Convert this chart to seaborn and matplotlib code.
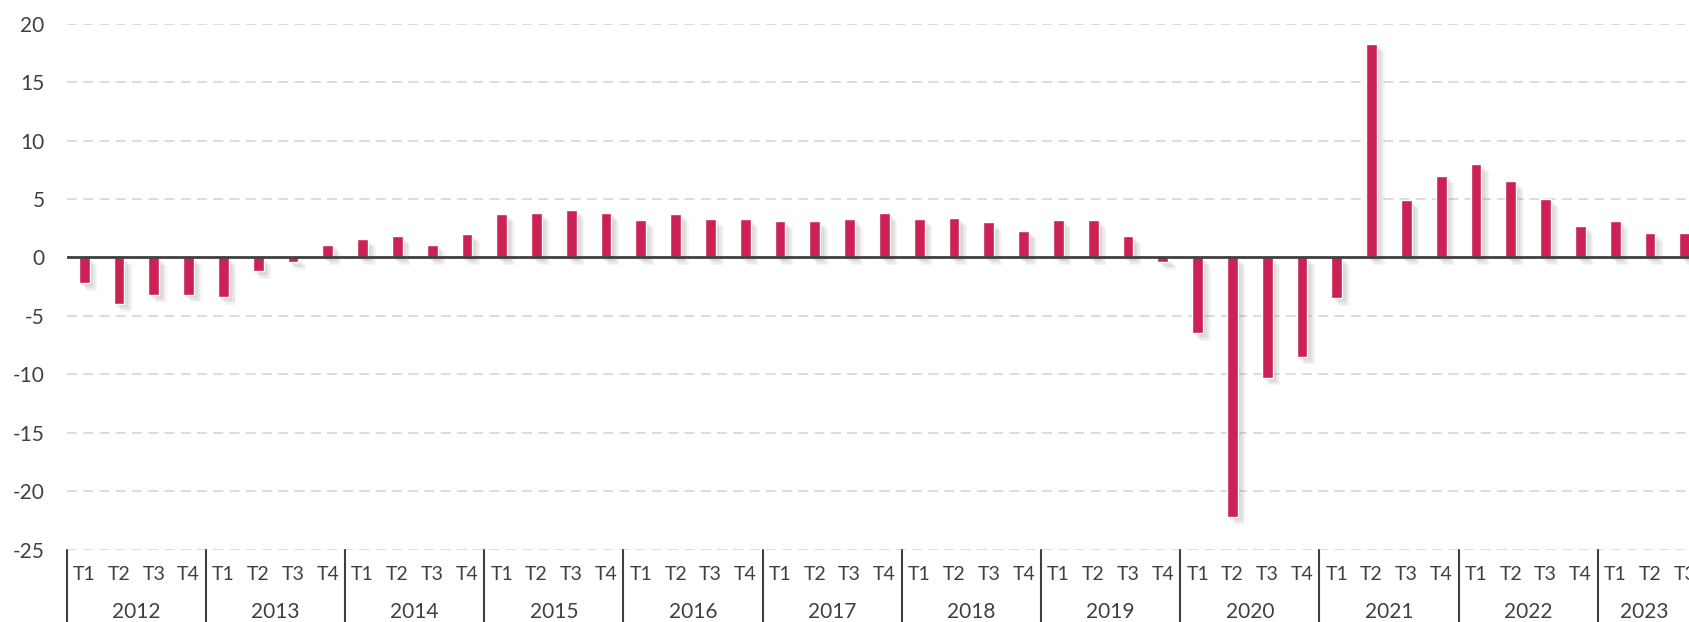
import numpy as np
import pandas as pd
import matplotlib
matplotlib.use("Agg")
import matplotlib.pyplot as plt
import matplotlib.patheffects as pe
import seaborn as sns

# quarterly values, 2012 T1 .. 2023 T3
years = ["2012", "2013", "2014", "2015", "2016", "2017",
         "2018", "2019", "2020", "2021", "2022", "2023"]
quarters = ["T1", "T2", "T3", "T4"]
values = [
    -2.2, -4.0, -3.2, -3.2,    # 2012
    -3.4, -1.2, -0.4, 1.1,     # 2013
    1.6, 1.8, 1.1, 2.0,        # 2014
    3.7, 3.8, 4.1, 3.8,        # 2015
    3.2, 3.7, 3.3, 3.3,        # 2016
    3.1, 3.1, 3.3, 3.8,        # 2017
    3.3, 3.4, 3.0, 2.3,        # 2018
    3.2, 3.2, 1.8, -0.4,       # 2019
    -6.5, -22.2, -10.3, -8.5,  # 2020
    -3.5, 18.3, 4.9, 7.0,      # 2021
    8.0, 6.5, 5.0, 2.7,        # 2022
    3.1, 2.1, 2.1,             # 2023
]
y_ticks = [20, 15, 10, 5, 0, -5, -10, -15, -20, -25]

periods = [f"{y} {q}" for y in years for q in quarters][:len(values)]
df = pd.DataFrame({"period": periods, "value": values})
df["quarter"] = df["period"].str.split(" ").str[1]

sns.set_style("white")
plt.rcParams["font.family"] = ["Lato", "DejaVu Sans"]
plt.rcParams["axes.unicode_minus"] = False

text_col = "#404040"
fig = plt.figure(figsize=(16.9, 6.22), dpi=100)
ax = fig.add_axes([0.0395, 0.1164, 0.9605, 0.8455])

sns.barplot(data=df, x="period", y="value", order=periods, color="#CB2155",
            width=0.31, saturation=1, ax=ax)

# soft drop shadow on the bars (a few faint layers to fake a blur)
shadow = [pe.SimplePatchShadow(offset=(d, -d), shadow_rgbFace="#777777", alpha=0.07)
          for d in (1.5, 2.5, 3.5, 4.5, 5.5)]
for p in ax.patches:
    p.set_path_effects(shadow + [pe.Normal()])

ax.set_ylim(-25, 20)
ax.set_xlim(-0.5, 46.15)
ax.set_yticks(y_ticks)
ax.set_yticklabels([str(t) for t in y_ticks])
ax.yaxis.grid(True, color="#D9D9D9", linestyle=(0, (5.5, 3.5)), linewidth=1.3)
ax.set_axisbelow(True)
ax.axhline(0, color="#404040", linewidth=2, zorder=3)

for s in ax.spines.values():
    s.set_visible(False)

ax.set_xticks(range(len(periods)))
ax.set_xticklabels(df["quarter"], fontsize=14, color=text_col)
ax.tick_params(axis="x", length=0, pad=12)
ax.tick_params(axis="y", length=0, pad=16, labelsize=15, labelcolor=text_col)
ax.set_xlabel("")
ax.set_ylabel("")

# year group labels and separators below the axis
trans = ax.get_xaxis_transform()
x_right = ax.get_xlim()[1]
for i, y in enumerate(years):
    start = i * 4 - 0.5
    end = min(start + 4, x_right)
    ax.plot([start, start], [0, -0.14], transform=trans, color="#404040",
            linewidth=1.5, clip_on=False)
    ax.text((start + end) / 2, -0.119, y, transform=trans, ha="center", va="center",
            fontsize=15, color=text_col)

plt.savefig("out.png", dpi=100)
